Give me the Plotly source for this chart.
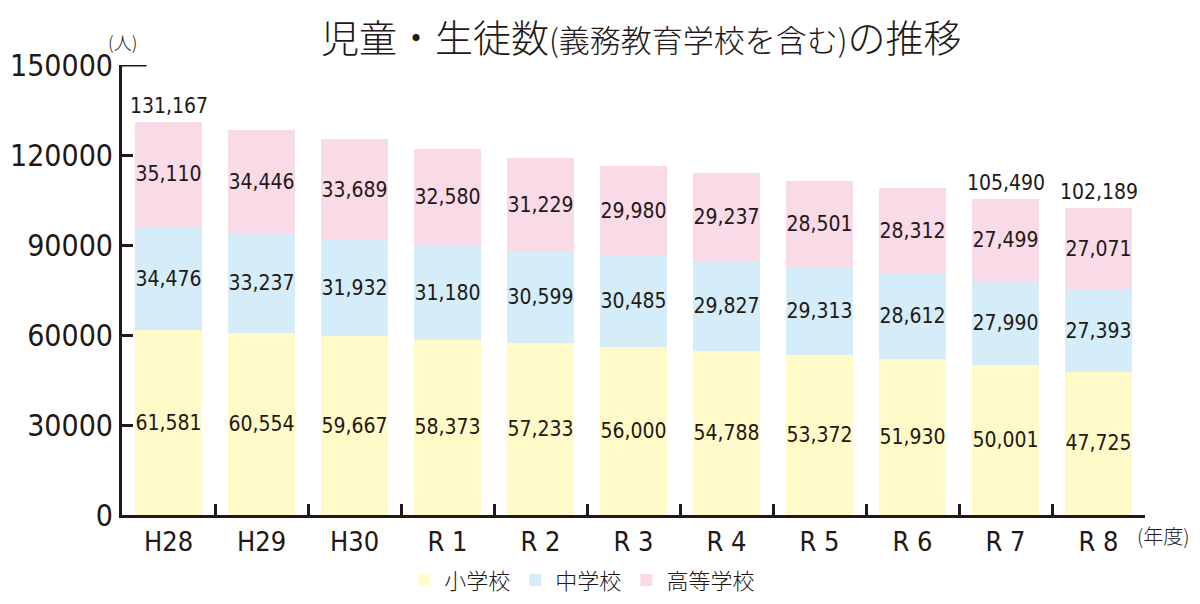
import plotly.graph_objects as go

# 年度
years = ["H28", "H29", "H30", "R 1", "R 2", "R 3", "R 4", "R 5", "R 6", "R 7", "R 8"]

# 小学校 / 中学校 / 高等学校
elementary = [61581, 60554, 59667, 58373, 57233, 56000, 54788, 53372, 51930, 50001, 47725]
junior_high = [34476, 33237, 31932, 31180, 30599, 30485, 29827, 29313, 28612, 27990, 27393]
high_school = [35110, 34446, 33689, 32580, 31229, 29980, 29237, 28501, 28312, 27499, 27071]

# totals shown above these bars only
total_years = ["H28", "R 7", "R 8"]

y_ticks = [0, 30000, 60000, 90000, 120000, 150000]

INK = "#231815"
NUM_FONT = "DejaVu Sans Condensed, Liberation Sans Narrow, sans-serif"
JP_FONT = "Noto Sans CJK JP, sans-serif"

series = [
    ("小学校", elementary, "#FFFAC8"),
    ("中学校", junior_high, "#D4EDF9"),
    ("高等学校", high_school, "#F9DAE7"),
]

fig = go.Figure()
for name, vals, color in series:
    fig.add_trace(go.Bar(
        x=years, y=vals, name=name,
        marker=dict(color=color, line=dict(width=0)),
        texttemplate="%{y:,}",
        textposition="inside",
        insidetextanchor="middle",
        textangle=0,
        constraintext="none",
        textfont=dict(family=NUM_FONT, size=21, color=INK),
        width=0.72,
    ))

totals = [e + j + h for e, j, h in zip(elementary, junior_high, high_school)]
for yr, tot in zip(years, totals):
    if yr in total_years:
        fig.add_annotation(
            x=yr, y=tot, text=f"{tot:,}", showarrow=False,
            yanchor="bottom", yshift=2,
            font=dict(family=NUM_FONT, size=21, color=INK),
        )

# title with smaller parenthetical
fig.add_annotation(
    xref="paper", yref="paper", x=0.508, y=1.0, yshift=30,
    xanchor="center", yanchor="middle", showarrow=False,
    text="児童・生徒数<span style='font-size:31px'>(義務教育学校を含む)</span>の推移",
    font=dict(family=JP_FONT, size=38, color=INK, weight=300),
)
fig.add_annotation(
    xref="paper", yref="paper", x=0, y=1.0, yshift=23,
    xanchor="center", yanchor="middle", showarrow=False,
    text="(人)", font=dict(family=JP_FONT, size=18, color=INK, weight=300),
)
fig.add_annotation(
    xref="paper", yref="paper", x=1.0, y=0, xshift=-10, yshift=-20,
    xanchor="left", yanchor="middle", showarrow=False,
    text="(年度)", font=dict(family=JP_FONT, size=20, color=INK, weight=300),
)

# longer top tick at 150000
fig.add_shape(type="line", xref="paper", yref="y", x0=0, x1=0.024,
              y0=150000, y1=150000, line=dict(color=INK, width=3))

# page body has an 8px default margin, so margins are shifted to compensate
fig.update_layout(
    width=1200, height=604,
    barmode="stack",
    paper_bgcolor="white", plot_bgcolor="white",
    margin=dict(l=114, r=63, t=57, b=97, autoexpand=False),
    showlegend=True,
    legend=dict(
        orientation="h", x=0.45, y=-0.145, xanchor="center", yanchor="middle",
        font=dict(family=JP_FONT, size=22, color=INK, weight=300),
        itemsizing="constant", traceorder="normal", itemwidth=30,
    ),
)

fig.update_xaxes(
    showline=True, linecolor=INK, linewidth=3, automargin=False,
    ticks="inside", tickson="boundaries", ticklen=11, tickwidth=3, tickcolor=INK,
    tickfont=dict(family=NUM_FONT, size=27, color=INK),
    showgrid=False, ticklabelstandoff=1,
)
fig.update_yaxes(
    range=[0, 150000], tickvals=y_ticks, tickformat="d", automargin=False,
    showline=True, linecolor=INK, linewidth=3,
    ticks="inside", ticklen=11, tickwidth=3, tickcolor=INK,
    tickfont=dict(family=NUM_FONT, size=30, color=INK),
    showgrid=False, zeroline=False, ticklabelstandoff=0,
)

fig.write_html("out.html")
